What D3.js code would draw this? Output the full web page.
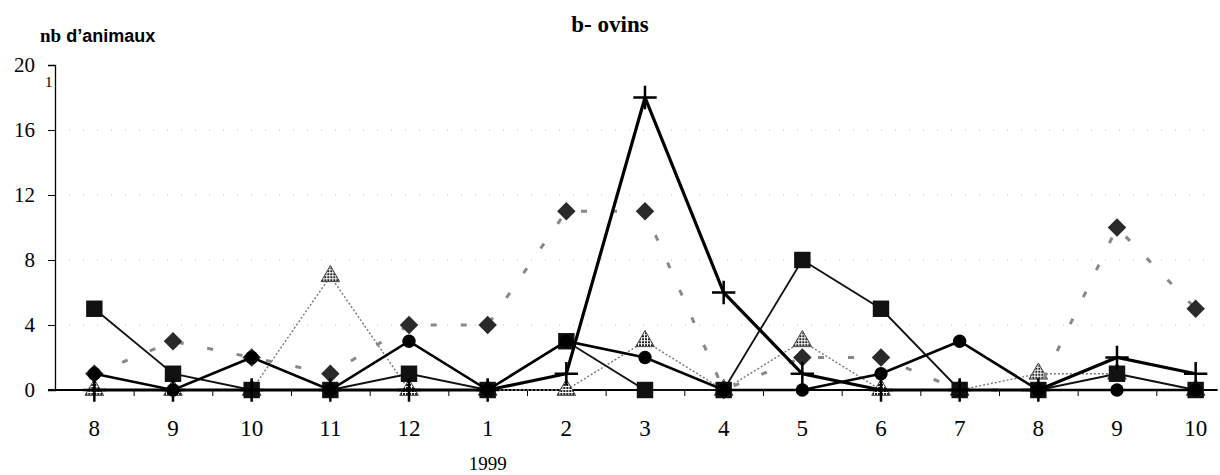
<!DOCTYPE html>
<html lang="fr">
<head>
<meta charset="UTF-8">
<title>b- ovins</title>
<script src="https://cdn.jsdelivr.net/npm/d3@7"></script>
<style>
    body { margin: 0; background: #fff; }
    svg { display: block; }
</style>
</head>
<body>
<script>
    'use strict';

    // mois (aout 1998 -> octobre 1999)
    var months = ['8', '9', '10', '11', '12', '1', '2', '3', '4', '5', '6', '7', '8', '9', '10'];
    var yTicks = [0, 4, 8, 12, 16, 20];

    // valeurs
    var diamonds  = [1, 3, 2, 1, 4, 4, 11, 11, 0, 2, 2, 0, 0, 10, 5];
    var pluses    = [0, 0, 0, 0, 0, 0, 1, 18, 6, 1, 0, 0, 0, 2, 1];
    var squares   = [5, 1, 0, 0, 1, 0, 3, 0, 0, 8, 5, 0, 0, 1, 0];
    var circles   = [1, 0, 2, 0, 3, 0, 3, 2, 0, 0, 1, 3, 0, 0, 0];
    var triangles = [0, 0, 0, 7, 0, 0, 0, 3, 0, 3, 0, 0, 1, 1, 0];

    var SERIF = '"Liberation Serif", "DejaVu Serif", serif';
    var w = 1220, h = 475;
    var svg = d3.select('body').append('svg')
        .attr('width', w)
        .attr('height', h);

    var x = d3.scaleLinear()
        .domain([-0.5, months.length - 0.5])
        .range([55, 1235]);

    var y = d3.scaleLinear()
        .domain([0, 20])
        .range([390, 65]);

    // pointillés horizontaux
    svg.append('g')
        .selectAll('line')
        .data(yTicks.filter(function(t) { return t > 0 && t < 20; }))
        .enter().append('line')
        .attr('x1', x(-0.5))
        .attr('x2', x(months.length - 1) + 20)
        .attr('y1', function(d) { return y(d); })
        .attr('y2', function(d) { return y(d); })
        .attr('stroke', '#bbb')
        .attr('stroke-width', 1)
        .attr('stroke-dasharray', '1,13');

    // axe Y
    var axisL = d3.axisLeft(y)
        .tickValues(yTicks)
        .tickSize(7)
        .tickPadding(13);
    var gy = svg.append('g')
        .attr('transform', 'translate(' + x(-0.5) + ',0)')
        .call(axisL);
    gy.selectAll('text')
        .style('font-family', SERIF)
        .style('font-size', '21px')
        .attr('fill', '#000');
    gy.select('.domain').attr('stroke', '#000').attr('stroke-width', 1.3);
    gy.selectAll('.tick line').attr('stroke', '#000');

    // axe X : graduations entre les mois
    var axisB = d3.axisBottom(x)
        .tickValues(d3.range(0.5, months.length - 1, 1))
        .tickFormat('')
        .tickSize(6)
        .tickSizeOuter(0);
    var gx = svg.append('g')
        .attr('transform', 'translate(0,' + y(0) + ')')
        .call(axisB);
    gx.select('.domain').remove();
    gx.selectAll('.tick line').attr('stroke', '#000');
    gx.append('line')
        .attr('x1', x(-0.5) - 7)
        .attr('x2', x(months.length - 1) + 22)
        .attr('stroke', '#000')
        .attr('stroke-width', 2);

    svg.append('g')
        .selectAll('text')
        .data(months)
        .enter().append('text')
        .attr('x', function(d, i) { return x(i); })
        .attr('y', 436)
        .attr('text-anchor', 'middle')
        .style('font-family', SERIF)
        .style('font-size', '23px')
        .text(function(d) { return d; });

    svg.append('text')
        .attr('x', x(5))
        .attr('y', 470)
        .attr('text-anchor', 'middle')
        .style('font-family', SERIF)
        .style('font-size', '19px')
        .text('1999');

    // titres
    svg.append('text')
        .attr('x', 610)
        .attr('y', 32)
        .attr('text-anchor', 'middle')
        .style('font-family', SERIF)
        .style('font-size', '23px')
        .style('font-weight', 'bold')
        .text('b-  ovins');

    var yl = svg.append('text')
        .attr('x', 40)
        .attr('y', 42)
        .style('font-size', '18px')
        .style('font-weight', 'bold');
    yl.append('tspan')
        .style('font-family', SERIF)
        .style('font-size', '19px')
        .text('nb');
    yl.append('tspan')
        .style('font-family', '"Liberation Sans", Arial, sans-serif')
        .text(' d\u2019animaux');

    svg.append('text')
        .attr('x', 45)
        .attr('y', 87)
        .style('font-family', SERIF)
        .style('font-size', '15px')
        .text('1');

    // motif grisé pour les marqueurs tramés
    var pat = svg.append('defs').append('pattern')
        .attr('id', 'trame')
        .attr('width', 3)
        .attr('height', 3)
        .attr('patternUnits', 'userSpaceOnUse');
    pat.append('rect').attr('width', 3).attr('height', 3).attr('fill', '#fff');
    pat.append('rect').attr('width', 2).attr('height', 2).attr('fill', '#222');

    var line = d3.line()
        .x(function(d, i) { return x(i); })
        .y(function(d) { return y(d); });

    var series = [
        { values: triangles, stroke: '#777', width: 1.4, dash: '2,2', symbol: d3.symbolTriangle, size: 150, fill: 'url(#trame)', mstroke: '#444', rot: 0 },
        { values: diamonds, stroke: '#888', width: 3, dash: '6,24', symbol: d3.symbolSquare, size: 170, fill: '#2a2a2a', mstroke: 'none', rot: 45 },
        { values: squares, stroke: '#111', width: 1.8, dash: null, symbol: d3.symbolSquare, size: 270, fill: '#111', mstroke: 'none', rot: 0 },
        { values: circles, stroke: '#000', width: 2.6, dash: null, symbol: d3.symbolCircle, size: 140, fill: '#000', mstroke: 'none', rot: 0 },
        { values: pluses, stroke: '#000', width: 3.2, dash: null, symbol: d3.symbolPlus, size: 180, fill: 'none', mstroke: '#000', rot: 0 }
    ];

    series.forEach(function(s) {
        var g = svg.append('g');
        g.append('path')
            .datum(s.values)
            .attr('d', line)
            .attr('fill', 'none')
            .attr('stroke', s.stroke)
            .attr('stroke-width', s.width)
            .attr('stroke-dasharray', s.dash);

        g.selectAll('path.m')
            .data(s.values)
            .enter().append('path')
            .attr('class', 'm')
            .attr('transform', function(d, i) {
                return 'translate(' + x(i) + ',' + y(d) + ') rotate(' + s.rot + ')';
            })
            .attr('d', d3.symbol().type(s.symbol).size(s.size))
            .attr('fill', s.fill)
            .attr('stroke', s.mstroke)
            .attr('stroke-width', s.symbol === d3.symbolPlus ? 2.5 : 1);
    });
</script>
</body>
</html>
